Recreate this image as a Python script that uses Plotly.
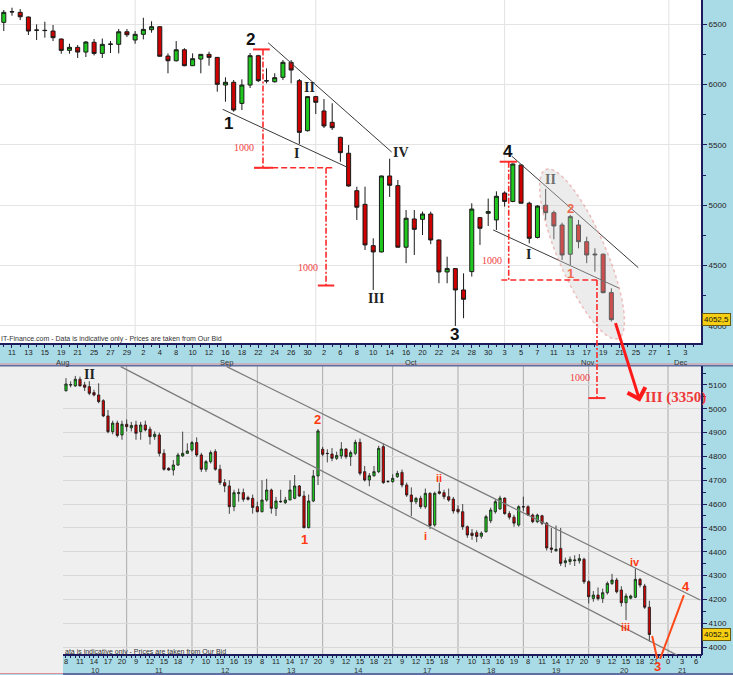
import math
import plotly.graph_objects as go

W, H = 733, 675

# ------------------------------------------------------------------ data
# Upper chart: daily candles, x = trading-day index on this calendar
MONTH_DAYS = [
    ("Aug", [8, 11, 12, 13, 14, 15, 18, 19, 20, 21, 22, 25, 26, 27, 28, 29]),
    ("Sep", [1, 2, 3, 4, 5, 8, 9, 10, 11, 12, 15, 16, 17, 18, 19, 22, 23, 24, 25, 26, 29, 30]),
    ("Oct", [1, 2, 3, 6, 7, 8, 9, 10, 13, 14, 15, 16, 17, 20, 21, 22, 23, 24, 27, 28, 29, 30, 31]),
    ("Nov", [3, 4, 5, 6, 7, 10, 11, 12, 13, 14, 17, 18, 19, 20, 21, 24, 25, 26, 27, 28]),
    ("Dec", [1, 2, 3, 4, 5]),
]
MONTH_LABEL_POS = [7.2, 27.1, 49.7, 71.2, 82.5]

TOP_OPEN = [6514, 6600, 6597, 6558, 6448, 6448, 6442, 6376, 6282, 6307,
            6268, 6349, 6257, 6332, 6332, 6436, 6368, 6415, 6453, 6478,
            6235, 6196, 6287, 6155, 6210, 6249, 6224, 5995, 6018, 5843,
            5995, 6238, 6031, 6022, 6059, 6183, 6031, 5617, 5899, 5780,
            5686, 5562, 5430, 5120, 5007, 4665, 4613, 5242, 5162, 4652,
            4886, 4883, 4927, 4712, 4447, 4475, 4298, 4450, 4897, 4933,
            4878, 5101, 5031, 5333, 5016, 4733, 5000, 4938, 4836, 4594,
            4836, 4698, 4588, 4594, 4276]
TOP_HIGH = [6616, 6635, 6624, 6562, 6497, 6519, 6492, 6380, 6337, 6326,
            6359, 6376, 6380, 6359, 6459, 6459, 6442, 6552, 6523, 6480,
            6257, 6359, 6300, 6257, 6249, 6271, 6227, 6059, 6036, 6042,
            6260, 6245, 6133, 6092, 6202, 6202, 6045, 5899, 5905, 5879,
            5844, 5567, 5498, 5153, 5153, 4726, 5245, 5385, 5209, 4960,
            4960, 4947, 4947, 4715, 4574, 4480, 4436, 5016, 4900, 5055,
            5115, 5115, 5347, 5335, 5029, 5000, 5135, 4955, 4855, 4919,
            4878, 4739, 4643, 4600, 4312]
TOP_LOW = [6442, 6569, 6533, 6409, 6368, 6387, 6359, 6254, 6254, 6219,
           6227, 6240, 6219, 6260, 6257, 6392, 6337, 6373, 6428, 6230,
           6092, 6190, 6150, 6153, 6092, 6155, 5940, 5857, 5774, 5788,
           5970, 6020, 6009, 6015, 6036, 6009, 5507, 5610, 5755, 5639,
           5623, 5360, 5153, 4877, 4629, 4298, 4610, 5068, 4650, 4520,
           4588, 4753, 4677, 4354, 4354, 4000, 4064, 4409, 4671, 4828,
           4795, 4988, 5025, 5016, 4684, 4725, 4878, 4718, 4546, 4505,
           4643, 4520, 4450, 4270, 4036]
TOP_CLOSE = [6597, 6602, 6560, 6442, 6450, 6446, 6387, 6282, 6307, 6268,
             6351, 6257, 6332, 6334, 6436, 6411, 6415, 6456, 6478, 6233,
             6196, 6287, 6155, 6213, 6249, 6224, 6001, 6018, 5788, 5995,
             6238, 6031, 6029, 6056, 6183, 6119, 5603, 5899, 5852, 5656,
             5642, 5435, 5159, 4983, 4671, 4613, 5242, 5165, 4652, 4892,
             4800, 4927, 4712, 4447, 4475, 4298, 4221, 4968, 4809, 4947,
             5074, 5031, 5341, 5016, 4726, 4993, 4938, 4828, 4588, 4905,
             4698, 4588, 4594, 4276, 4052.5]
TOP_YTICKS = [4000, 4500, 5000, 5500, 6000, 6500]

# Lower chart: hourly candles (Nov 10 - Nov 20), x = hourly slot
BOT_OPEN = [4995, 5076, 5100, 5096, 5124, 5100, 5093, 5068, 5058, 5034,
            4970, 4904, 4940, 4890, 4935, 4920, 4932, 4904, 4932, 4914,
            4883, 4890, 4813, 4750, 4743, 4764, 4802, 4813, 4827, 4858,
            4806, 4746, 4778, 4820, 4746, 4690, 4676, 4589, 4644, 4648,
            4627, 4624, 4589, 4568, 4617, 4659, 4582, 4612, 4606, 4617,
            4624, 4676, 4634, 4501, 4613, 4718, 4830, 4813, 4810, 4792,
            4802, 4831, 4799, 4813, 4859, 4736, 4701, 4719, 4736, 4841,
            4694, 4694, 4715, 4733, 4680, 4638, 4610, 4624, 4589, 4645,
            4512, 4652, 4648, 4631, 4621, 4578, 4568, 4505, 4478, 4480,
            4465, 4484, 4530, 4568, 4580, 4625, 4560, 4545, 4512, 4589,
            4589, 4554, 4526, 4551, 4520, 4416, 4404, 4414, 4354, 4359,
            4362, 4362, 4368, 4274, 4204, 4218, 4204, 4228, 4267, 4281,
            4239, 4186, 4205, 4209, 4284, 4256, 4167]
BOT_HIGH = [5080, 5129, 5115, 5138, 5135, 5113, 5116, 5080, 5107, 5040,
            4995, 4950, 4950, 4950, 4955, 4945, 4950, 4945, 4950, 4925,
            4905, 4900, 4830, 4755, 4785, 4815, 4904, 4855, 4865, 4880,
            4815, 4785, 4825, 4830, 4765, 4705, 4700, 4660, 4665, 4665,
            4635, 4640, 4610, 4700, 4706, 4665, 4630, 4660, 4630, 4700,
            4722, 4680, 4655, 4640, 4743, 4915, 4840, 4830, 4835, 4820,
            4860, 4835, 4825, 4870, 4875, 4760, 4730, 4760, 4845, 4855,
            4700, 4725, 4740, 4745, 4690, 4670, 4630, 4635, 4665, 4650,
            4652, 4690, 4660, 4665, 4630, 4595, 4600, 4510, 4495, 4490,
            4485, 4555, 4585, 4620, 4635, 4628, 4570, 4555, 4595, 4631,
            4595, 4560, 4560, 4555, 4525, 4500, 4510, 4500, 4375, 4380,
            4385, 4390, 4375, 4280, 4235, 4250, 4245, 4275, 4307, 4290,
            4255, 4225, 4220, 4330, 4290, 4265, 4194]
BOT_LOW = [4990, 5072, 5090, 5092, 5094, 5075, 5057, 5052, 5023, 4965,
           4897, 4893, 4880, 4870, 4905, 4905, 4870, 4870, 4905, 4850,
           4870, 4800, 4740, 4740, 4720, 4760, 4798, 4810, 4820, 4798,
           4735, 4735, 4770, 4740, 4680, 4650, 4559, 4570, 4610, 4610,
           4615, 4560, 4565, 4565, 4610, 4560, 4550, 4605, 4600, 4617,
           4620, 4630, 4498, 4498, 4608, 4680, 4800, 4775, 4780, 4785,
           4790, 4790, 4760, 4805, 4720, 4695, 4675, 4715, 4730, 4685,
           4690, 4690, 4710, 4670, 4630, 4550, 4600, 4580, 4580, 4495,
           4505, 4640, 4620, 4610, 4560, 4560, 4492, 4458, 4450, 4440,
           4455, 4480, 4520, 4560, 4575, 4555, 4535, 4505, 4505, 4570,
           4550, 4520, 4520, 4512, 4405, 4395, 4400, 4340, 4335, 4345,
           4340, 4350, 4265, 4183, 4190, 4195, 4185, 4220, 4260, 4225,
           4170, 4113, 4200, 4205, 4250, 4160, 4023]
BOT_CLOSE = [5075, 5104, 5101, 5124, 5096, 5090, 5065, 5058, 5030, 4970,
             4904, 4940, 4888, 4935, 4925, 4930, 4897, 4932, 4911, 4883,
             4893, 4813, 4746, 4743, 4764, 4806, 4813, 4823, 4858, 4806,
             4746, 4778, 4816, 4746, 4690, 4676, 4589, 4648, 4648, 4620,
             4620, 4586, 4568, 4617, 4659, 4582, 4613, 4610, 4617, 4659,
             4676, 4634, 4501, 4613, 4718, 4907, 4809, 4812, 4792, 4804,
             4831, 4799, 4816, 4859, 4729, 4701, 4719, 4736, 4834, 4690,
             4695, 4708, 4729, 4680, 4638, 4610, 4624, 4589, 4645, 4510,
             4645, 4645, 4631, 4617, 4571, 4568, 4505, 4470, 4468, 4464,
             4478, 4547, 4575, 4610, 4625, 4560, 4545, 4520, 4589, 4588,
             4554, 4526, 4554, 4520, 4416, 4410, 4410, 4351, 4362, 4368,
             4365, 4371, 4274, 4211, 4218, 4203, 4228, 4267, 4281, 4232,
             4186, 4214, 4214, 4284, 4260, 4167, 4052.5]
BOT_TICK_SLOTS = [1, 4, 7, 10, 13, 16, 19, 22, 25, 28, 31, 34, 37, 40,
                  43, 46, 49, 52, 55, 58, 61, 64, 67, 70, 73, 76, 79, 82,
                  85, 88, 91, 94, 97, 100, 103, 106, 109, 112,
                  115, 118, 121, 124, 127, 130, 133, 136]
BOT_TICK_TEXT = ["8", "11", "14", "17", "20", "9", "12", "15", "18",
                 "7", "10", "13", "16", "19", "8", "11", "14", "17", "20",
                 "9", "12", "15", "18", "21", "9", "12", "15", "18",
                 "7", "10", "13", "16", "19", "8", "11", "14", "17", "20",
                 "9", "12", "15", "18", "21", "0", "3", "6"]
BOT_DATE_SLOTS = [7.2, 21, 35, 49.2, 63.5, 78.3, 92, 106, 120.5, 133]
BOT_DATE_TEXT = ["10", "11", "12", "13", "14", "17", "18", "19", "20", "21"]
BOT_DAY_STARTS = [14, 28, 42, 56, 71, 85, 99, 113, 130]
BOT_YTICKS = [4000, 4100, 4200, 4300, 4400, 4500, 4600, 4700, 4800, 4900, 5000, 5100]
LAST_PRICE = 4052.5
LAST_TEXT = "4052,5"

# Annotation anchors (x = trading-day index / hourly slot, y = price)
TOP_TRENDLINES = [((26.66, 5794), (41.9, 5312)), ((32.2, 6345), (47.25, 5440)),
                  ((59.6, 4795), (74.98, 4312)), ((61.86, 5407), (77.28, 4483))]
TOP_WAVES = [("1", 27.43, 5680), ("2", 29.99, 6368), ("3", 54.9, 3926), ("4", 61.47, 5443)]
TOP_ROMAN = [("I", 35.71, 5424), ("II", 37.18, 5973), ("III", 45.3, 4229),
             ("IV", 48.38, 5435), ("I", 63.89, 4588)]
TOP_FADED = [("II", 66.53, 5214, "#6e6e6e", "Liberation Serif"),
             ("2", 69.05, 4974, "#ec6a50", "Liberation Sans"),
             ("1", 68.97, 4436, "#ec6a50", "Liberation Sans")]
MEASURE_TEXT = [("1000", 29.26, 5474), ("1000", 37.05, 4488), ("1000", 59.47, 4546)]
BOT_CHANNEL = [((35.44, 5177), (136.9, 4197)), ((12.73, 5177), (131.9, 3966))]
BOT_WAVES = [("2", 54.8, 4957), ("1", 52.2, 4453), ("4", 133.8, 4252)]
BOT_SUBWAVES = [("i", 78.1, 4466), ("ii", 80.9, 4709), ("iii", 120.8, 4084), ("iv", 122.9, 4357)]

# ------------------------------------------------------------------ geometry
TOP_BOX = (0, 701, 0, 343)      # px: left, right, top, bottom
BOT_BOX = (63, 702, 366, 655)
TOP_XR, TOP_YR = [-0.46, 84.92], [3859, 6699]
BOT_XR, BOT_YR = [0.36, 137.28], [3966.4, 5179.6]


def px_x(v, box, xr):
    return box[0] + (v - xr[0]) / (xr[1] - xr[0]) * (box[1] - box[0])


def px_y(v, box, yr):
    return box[3] - (v - yr[0]) / (yr[1] - yr[0]) * (box[3] - box[2])


def inv_x(p, box, xr):
    return xr[0] + (p - box[0]) / (box[1] - box[0]) * (xr[1] - xr[0])


def inv_y(p, box, yr):
    return yr[0] + (box[3] - p) / (box[3] - box[2]) * (yr[1] - yr[0])


def PX(p):
    return p / W


def PY(p):
    return 1 - p / H


tx = lambda v: px_x(v, TOP_BOX, TOP_XR)
ty = lambda v: px_y(v, TOP_BOX, TOP_YR)
bx = lambda v: px_x(v, BOT_BOX, BOT_XR)
by = lambda v: px_y(v, BOT_BOX, BOT_YR)

# ------------------------------------------------------------------ figure
AXIS_DAYS = [(m, d) for m, ds in MONTH_DAYS for d in ds]
TOP_X = list(range(len(TOP_OPEN)))
BOT_X = list(range(len(BOT_OPEN)))
TOP_TICK_IDX = list(range(1, 84, 2))
TOP_TICK_TEXT = [str(AXIS_DAYS[i][1]) for i in TOP_TICK_IDX]

NAVY = "#1d1d5e"
BLUE_BG = "#a9dbe7"
RED = "#ff2a2a"
SANS = "Liberation Sans"
SERIF = "Liberation Serif"

fig = go.Figure()
for xs, o, h, l, c, xa, ya, lw in [
    (TOP_X, TOP_OPEN, TOP_HIGH, TOP_LOW, TOP_CLOSE, "x", "y", 1),
    (BOT_X, BOT_OPEN, BOT_HIGH, BOT_LOW, BOT_CLOSE, "x2", "y2", 0.8),
]:
    fig.add_trace(go.Candlestick(
        x=xs, open=o, high=h, low=l, close=c, xaxis=xa, yaxis=ya,
        increasing=dict(line=dict(color="#1a1a1a", width=lw), fillcolor="#1fc81f"),
        decreasing=dict(line=dict(color="#1a1a1a", width=lw), fillcolor="#cf0000"),
        whiskerwidth=0, hoverinfo="skip", showlegend=False))

shapes = []
ann = []


def label(xref, yref, x, y, text, font, **kw):
    d = dict(xref=xref, yref=yref, x=x, y=y, text=text, showarrow=False, font=font,
             xanchor="center", yanchor="middle")
    d.update(kw)
    ann.append(d)


def rect_px(x0, x1, y0, y1, color, layer="below"):
    shapes.append(dict(type="rect", xref="paper", yref="paper", x0=PX(x0), x1=PX(x1),
                       y0=PY(y1), y1=PY(y0), fillcolor=color, line=dict(width=0), layer=layer))


def line_px(x0, y0, x1, y1, color, width=1, dash="solid", layer="above"):
    shapes.append(dict(type="line", xref="paper", yref="paper", x0=PX(x0), y0=PY(y0),
                       x1=PX(x1), y1=PY(y1), line=dict(color=color, width=width, dash=dash),
                       layer=layer))


# panel backgrounds
rect_px(*TOP_BOX, "#ffffff")
rect_px(*BOT_BOX, "#efefef")
rect_px(0, 63, 366, 673, "#efefef")

# strip borders
line_px(0, 364, W, 364, "#e58a98", 1)
line_px(0, 365.8, W, 365.8, "#5d6f9e", 1.5)
line_px(63, 674, W, 674, "#4a4a8a", 1.5)
line_px(0, 673.5, 63, 673.5, "#e58a98", 1)
line_px(BOT_BOX[0], BOT_BOX[3], BOT_BOX[1], BOT_BOX[3], NAVY, 2)
line_px(BOT_BOX[1], BOT_BOX[2], BOT_BOX[1], BOT_BOX[3], NAVY, 2)

# top month grid lines + month names
k = 0
for (m, ds), pos in zip(MONTH_DAYS, MONTH_LABEL_POS):
    if k > 0:
        shapes.append(dict(type="line", xref="x", yref="y domain", x0=k, x1=k, y0=0, y1=1,
                           line=dict(color="#e2e2e2", width=1), layer="below"))
    label("x", "paper", pos, PY(362.3), m, dict(family=SANS, size=7.5, color="#333"))
    k += len(ds)

# bottom day grid lines + dates
for s in BOT_DAY_STARTS:
    shapes.append(dict(type="line", xref="x2", yref="y2 domain", x0=s, x1=s, y0=0, y1=1,
                       line=dict(color="#ababab", width=1), layer="below"))
for s, t in zip(BOT_DATE_SLOTS, BOT_DATE_TEXT):
    label("x2", "paper", s, PY(670.5), t, dict(family=SANS, size=7.5, color="#333"))

# trend lines
for (x0, y0), (x1, y1) in TOP_TRENDLINES:
    shapes.append(dict(type="line", xref="x", yref="y", x0=x0, y0=y0, x1=x1, y1=y1,
                       line=dict(color="#3a3a3a", width=1)))
for (x0, y0), (x1, y1) in BOT_CHANNEL:
    shapes.append(dict(type="line", xref="x2", yref="y2", x0=x0, y0=y0, x1=x1, y1=y1,
                       line=dict(color="#7a7a7a", width=1.2)))

# ellipse (drawn over the candles, translucent)
E_CENTER = (70.43, 4596)
E_RX, E_RY, E_ANG = 92, 24, math.radians(66.8)
cxp, cyp = tx(E_CENTER[0]), ty(E_CENTER[1])
pts = []
for n in range(73):
    t = 2 * math.pi * n / 72
    ex, ey = E_RX * math.cos(t), E_RY * math.sin(t)
    ppx = cxp + ex * math.cos(E_ANG) - ey * math.sin(E_ANG)
    ppy = cyp + ex * math.sin(E_ANG) + ey * math.cos(E_ANG)
    pts.append((inv_x(ppx, TOP_BOX, TOP_XR), inv_y(ppy, TOP_BOX, TOP_YR)))
path = "M " + " L ".join(f"{a:.3f},{b:.1f}" for a, b in pts) + " Z"
shapes.append(dict(type="path", xref="x", yref="y", path=path,
                   fillcolor="rgba(205,205,205,0.38)",
                   line=dict(color="rgba(235,150,150,0.6)", width=1.5, dash="dot"),
                   layer="above"))

# red 1000-point measurements
DD = "6px,2px,2px,2px"


def seg(xref, yref, x0, y0, x1, y1, dash="solid", width=1.6):
    shapes.append(dict(type="line", xref=xref, yref=yref, x0=x0, y0=y0, x1=x1, y1=y1,
                       line=dict(color=RED, width=width, dash=dash)))


M1 = dict(cap_top=6290, mid=5310, bottom=4335, v1=31.57, v2=39.25)
seg("x", "y", 30.35, M1["cap_top"], 32.4, M1["cap_top"], width=2)
seg("x", "y", M1["v1"], M1["cap_top"], M1["v1"], M1["mid"], DD)
seg("x", "y", 30.5, M1["mid"], 32.8, M1["mid"], width=2)
seg("x", "y", 30.5, M1["mid"], M1["v2"] + 0.8, M1["mid"], "6px,3px")
seg("x", "y", M1["v2"], M1["mid"], M1["v2"], M1["bottom"], DD)
seg("x", "y", M1["v2"] - 1.0, M1["bottom"], M1["v2"] + 1.0, M1["bottom"], width=2)

M2 = dict(cap_top=5360, mid=4381, v1=61.5, v2=72.25, bottom_lower=5045)
seg("x", "y", 60.4, M2["cap_top"], 62.5, M2["cap_top"], width=2)
seg("x", "y", M2["v1"], M2["cap_top"], M2["v1"], M2["mid"], DD)
seg("x", "y", 60.6, M2["mid"], M2["v2"], M2["mid"], "6px,3px")
vx = tx(M2["v2"])
line_px(vx, ty(M2["mid"]), vx, by(M2["bottom_lower"]), RED, 1.6, DD)
line_px(vx - 8.5, by(M2["bottom_lower"]), vx + 8.5, by(M2["bottom_lower"]), RED, 2)
label("paper", "paper", PX(tx(70.18)), PY(by(5133)), "1000",
      dict(family=SERIF, size=10, color="#f03c3c"))
for t, x, y in MEASURE_TEXT:
    label("x", "y", x, y, t, dict(family=SERIF, size=10, color="#f03c3c"))

# wave labels
for t, x, y in TOP_WAVES:
    label("x", "y", x, y, f"<b>{t}</b>", dict(family=SANS, size=17, color="#111"))
for t, x, y in TOP_ROMAN:
    label("x", "y", x, y, f"<b>{t}</b>", dict(family=SERIF, size=14, color="#222"))
for t, x, y, col, fam in TOP_FADED:
    label("x", "y", x, y, f"<b>{t}</b>",
          dict(family=fam, size=14 if fam == SERIF else 13, color=col))
label("x2", "y2", 6.0, 5142, "<b>II</b>", dict(family=SERIF, size=14, color="#222"))
for t, x, y in BOT_WAVES:
    label("x2", "y2", x, y, f"<b>{t}</b>", dict(family=SANS, size=13, color="#ff3a10"))
for t, x, y in BOT_SUBWAVES:
    label("x2", "y2", x, y, f"<b>{t}</b>", dict(family=SANS, size=11, color="#ff3a10"))
label("paper", "paper", PX(bx(127.8)), PY(by(3917)), "<b>3</b>",
      dict(family=SANS, size=13, color="#ff3a10"))

# projected path 3 -> 4 in the lower chart
WAVE_PATH = [((126.6, 4046), (127.7, 3950)), ((128.3, 3950), (133.4, 4218))]
for (x0, y0), (x1, y1) in WAVE_PATH:
    line_px(bx(x0), by(y0), bx(x1), by(y1), "#ff4a1a", 2)

# big red arrow to target
tail = (tx(74.45), ty(4036))
tip = (tx(77.5), by(5030))
ann.append(dict(xref="paper", yref="paper", x=PX(tip[0]), y=PY(tip[1]), text="",
                showarrow=True, ax=tail[0] - tip[0], ay=tail[1] - tip[1],
                axref="pixel", ayref="pixel", arrowhead=4, arrowsize=1.2,
                arrowwidth=3, arrowcolor="#ff1a1a", standoff=0))
label("x2", "y2", 131.5, 5049, "<b>III (3350)</b>", dict(family=SERIF, size=15, color="#ee3838"))

# footers
label("paper", "paper", PX(-1), PY(338.5),
      "IT-Finance.com - Data is indicative only - Prices are taken from Our Bid",
      dict(family=SANS, size=7, color="#333"), xanchor="left")
label("paper", "paper", PX(63), PY(651.5),
      "ata is indicative only - Prices are taken from Our Bid",
      dict(family=SANS, size=7, color="#333"), xanchor="left")

# last price boxes
for yref in ("y", "y2"):
    label("paper", yref, PX(702), LAST_PRICE, LAST_TEXT,
          dict(family=SANS, size=8, color="#111"), xanchor="left", bgcolor="#f6cf12",
          bordercolor="#6b5a10", borderwidth=1, borderpad=1)

axis_font = dict(family=SANS, size=8, color="#222")
fig.update_layout(
    width=W, height=H, autosize=False,
    margin=dict(l=0, r=0, t=0, b=0),
    paper_bgcolor=BLUE_BG, plot_bgcolor="rgba(0,0,0,0)",
    showlegend=False, hovermode=False,
    xaxis=dict(domain=[TOP_BOX[0] / W, TOP_BOX[1] / W], range=TOP_XR, anchor="y",
               tickmode="array", tickvals=TOP_TICK_IDX, ticktext=TOP_TICK_TEXT,
               ticks="outside", ticklen=3, tickcolor=NAVY,
               tickfont=dict(family=SANS, size=7.5, color="#222"),
               ticklabelstandoff=-2,
               showline=True, linecolor=NAVY, linewidth=2, showgrid=False, zeroline=False,
               rangeslider=dict(visible=False),
               minor=dict(tickmode="linear", tick0=0, dtick=1, ticks="outside",
                          ticklen=2, tickcolor=NAVY, showgrid=False)),
    yaxis=dict(domain=[PY(TOP_BOX[3]), PY(TOP_BOX[2])], range=TOP_YR, anchor="x",
               side="right", tickmode="array", tickvals=TOP_YTICKS,
               ticktext=[str(v) for v in TOP_YTICKS], ticks="outside", ticklen=4,
               tickcolor=NAVY, tickfont=axis_font, showline=True, linecolor=NAVY,
               linewidth=2, showgrid=True, gridcolor="#e4e4e4", zeroline=False,
               minor=dict(tickmode="linear", tick0=4250, dtick=500, ticks="outside",
                          ticklen=3, tickcolor=NAVY, showgrid=False)),
    xaxis2=dict(domain=[BOT_BOX[0] / W, BOT_BOX[1] / W], range=BOT_XR, anchor="y2",
                tickmode="array", tickvals=BOT_TICK_SLOTS, ticktext=BOT_TICK_TEXT,
                ticks="outside", ticklen=2, tickcolor=NAVY,
                tickfont=dict(family=SANS, size=7.5, color="#222"),
                ticklabelstandoff=-3,
                showline=False, showgrid=False, zeroline=False,
                rangeslider=dict(visible=False),
                minor=dict(tickmode="linear", tick0=0, dtick=1, ticks="outside",
                           ticklen=2, tickcolor=NAVY, showgrid=False)),
    yaxis2=dict(domain=[PY(BOT_BOX[3]), PY(BOT_BOX[2])], range=BOT_YR, anchor="x2",
                side="right", tickmode="array", tickvals=BOT_YTICKS,
                ticktext=[str(v) for v in BOT_YTICKS], ticks="outside", ticklen=4,
                tickcolor=NAVY, tickfont=axis_font, showline=False,
                showgrid=True, gridcolor="#d8d8d8", zeroline=False,
                minor=dict(tickmode="linear", tick0=4050, dtick=100, ticks="outside",
                           ticklen=3, tickcolor=NAVY, showgrid=False)),
    shapes=shapes, annotations=ann,
)

fig.write_html("out.html", config={"displayModeBar": False},
               post_script="document.body.style.margin='0px';")
